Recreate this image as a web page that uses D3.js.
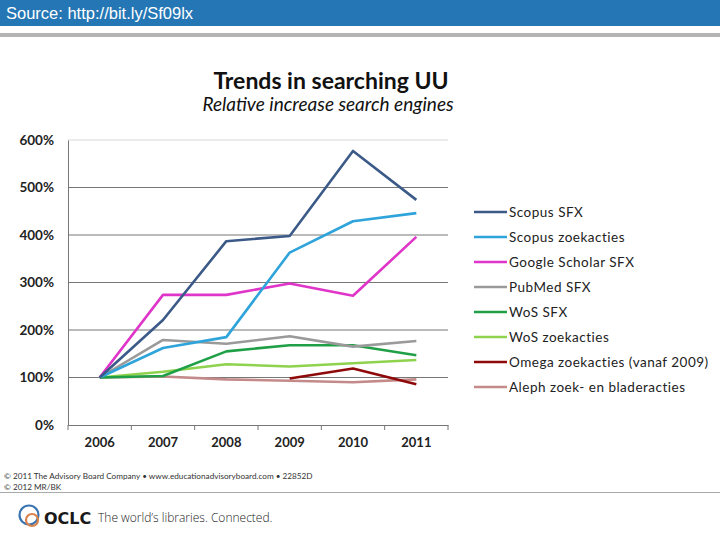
<!DOCTYPE html>
<html>
<head>
<meta charset="utf-8">
<script src="https://cdn.jsdelivr.net/npm/d3@7"></script>
<style>
  body { margin: 0; background: #fff; }
  svg { display: block; }
</style>
</head>
<body>
<svg id="chart"></svg>
<script>
// Chart data (percent of 2006 level)
let years = ['2006', '2007', '2008', '2009', '2010', '2011'];
let seriesNames = ['Scopus SFX', 'Scopus zoekacties', 'Google Scholar SFX', 'PubMed SFX', 'WoS SFX', 'WoS zoekacties', 'Omega zoekacties (vanaf 2009)', 'Aleph zoek- en bladeracties'];
let scopusSfx = [100, 221, 387, 398, 577, 474];
let scopusZoek = [100, 162, 185, 363, 429, 446];
let googleSfx = [100, 274, 274, 298, 272, 396];
let pubmedSfx = [100, 179, 171, 187, 165, 177];
let wosSfx = [100, 103, 155, 168, 168, 147];
let wosZoek = [100, 112, 128, 123, 130, 137];
let omegaZoek = [null, null, null, 98, 119, 86];
let alephZoek = [100, 102, 96, 93, 90, 96];
let yTicks = [0, 100, 200, 300, 400, 500, 600];

let seriesValues = [scopusSfx, scopusZoek, googleSfx, pubmedSfx, wosSfx, wosZoek, omegaZoek, alephZoek];
let colors = ['#3c5a88', '#2ea4da', '#e035c9', '#9a9a9a', '#20a046', '#8ed24e', '#8e0a0a', '#c48a8a'];

let width = 720;
let height = 540;
let svg = d3.select('#chart').attr('width', width).attr('height', height);

// header bar
svg.append('rect').attr('x', 0).attr('y', 0).attr('width', width).attr('height', 26).attr('fill', '#2477b4');
svg.append('text').attr('x', 6).attr('y', 19).attr('fill', '#fff')
  .style('font-family', 'Liberation Sans, Arial, sans-serif').style('font-size', '16.5px')
  .text('Source: http://bit.ly/Sf09lx');
svg.append('rect').attr('x', 0).attr('y', 33).attr('width', width).attr('height', 4).attr('fill', '#b4b4b4');

// titles
svg.append('text').attr('x', 331).attr('y', 89).attr('text-anchor', 'middle')
  .style('font-family', 'Lato, sans-serif').style('font-weight', 'bold').style('font-size', '23px').attr('fill', '#111')
  .text('Trends in searching UU');
svg.append('text').attr('x', 328).attr('y', 111).attr('text-anchor', 'middle')
  .style('font-family', 'Lato, sans-serif').style('font-style', 'italic').style('font-size', '19px').attr('fill', '#111')
  .text('Relative increase search engines');

// scales
let x = d3.scaleBand().domain(years).range([68, 448]);
let y = d3.scaleLinear().domain([0, 600]).range([425, 140]);

// gridlines
svg.append('g').selectAll('line').data(yTicks.filter((d) => d > 0)).enter().append('line')
  .attr('x1', 68).attr('x2', 448)
  .attr('y1', (d) => y(d)).attr('y2', (d) => y(d))
  .attr('stroke', (d) => d === 600 ? '#d8d8d8' : '#777').attr('stroke-width', 1);

// y axis
let yAxis = d3.axisLeft(y).tickValues(yTicks).tickFormat((d) => d + '%').tickSize(0).tickPadding(14);
let gy = svg.append('g').attr('transform', 'translate(68,0)').call(yAxis);
gy.select('.domain').attr('stroke', '#777');
gy.selectAll('text').style('font-family', 'Lato, sans-serif').style('font-weight', 'bold').style('font-size', '13.5px').attr('fill', '#222');

// x axis
let xAxis = d3.axisBottom(x).tickSize(0).tickPadding(13);
let gx = svg.append('g').attr('transform', 'translate(0,425)').call(xAxis);
gx.select('.domain').attr('stroke', '#777');
gx.selectAll('text').style('font-family', 'Lato, sans-serif').style('font-weight', 'bold').style('font-size', '13px').attr('fill', '#222');
// tick marks at band edges
gx.selectAll('.edge').data(years.slice(1).concat(['end'])).enter().append('line')
  .attr('x1', (d, i) => i < 5 ? x(d) : x('2011') + x.bandwidth())
  .attr('x2', (d, i) => i < 5 ? x(d) : x('2011') + x.bandwidth())
  .attr('y1', 0).attr('y2', 5).attr('stroke', '#777');
gx.append('line').attr('x1', 68).attr('x2', 68).attr('y1', 0).attr('y2', 5).attr('stroke', '#777');

// lines
let line = d3.line()
  .defined((d) => d !== null)
  .x((d, i) => x(years[i]) + x.bandwidth() / 2)
  .y((d) => y(d));

// draw back to front so the first series sits on top
let order = [7, 6, 5, 4, 3, 2, 1, 0];
order.forEach((k) => {
  svg.append('path').datum(seriesValues[k])
    .attr('d', line).attr('fill', 'none')
    .attr('stroke', colors[k]).attr('stroke-width', 2.6)
    .attr('stroke-linejoin', 'round');
});

// legend
let legend = svg.append('g').selectAll('g').data(seriesNames).enter().append('g')
  .attr('transform', (d, i) => 'translate(474,' + (212 + i * 25) + ')');
legend.append('line').attr('x1', 0).attr('x2', 33).attr('y1', 0).attr('y2', 0)
  .attr('stroke', (d, i) => colors[i]).attr('stroke-width', 2.6);
legend.append('text').attr('x', 35).attr('y', 4.5)
  .style('font-family', 'Lato, sans-serif').style('font-size', '13.5px').style('letter-spacing', '0.5px').attr('fill', '#222')
  .text((d) => d);

// footer
svg.append('text').attr('x', 4).attr('y', 479)
  .style('font-family', 'Lato, sans-serif').style('font-size', '8.2px').attr('fill', '#333')
  .text('\u00a9 2011 The Advisory Board Company \u2022 www.educationadvisoryboard.com \u2022  22852D');
svg.append('text').attr('x', 4).attr('y', 490)
  .style('font-family', 'Lato, sans-serif').style('font-size', '8.2px').attr('fill', '#333')
  .text('\u00a9 2012 MR/BK');
svg.append('rect').attr('x', 0).attr('y', 492).attr('width', width).attr('height', 1).attr('fill', '#aaa');

// OCLC logo
svg.append('circle').attr('cx', 29).attr('cy', 515).attr('r', 9.5).attr('fill', 'none').attr('stroke', '#3a74b0').attr('stroke-width', 2.2);
svg.append('circle').attr('cx', 32).attr('cy', 520).attr('r', 6).attr('fill', 'none').attr('stroke', '#d9824a').attr('stroke-width', 2.2);
svg.append('text').attr('x', 44).attr('y', 524)
  .style('font-family', 'DejaVu Sans, sans-serif').style('font-weight', 'bold').style('font-size', '16px').attr('fill', '#1a1a1a')
  .text('OCLC');
svg.append('text').attr('x', 98).attr('y', 522)
  .style('font-family', 'Open Sans, sans-serif').style('font-weight', '300').style('font-size', '12px').attr('fill', '#222')
  .text('The world\u2019s libraries. Connected.');
</script>
</body>
</html>
